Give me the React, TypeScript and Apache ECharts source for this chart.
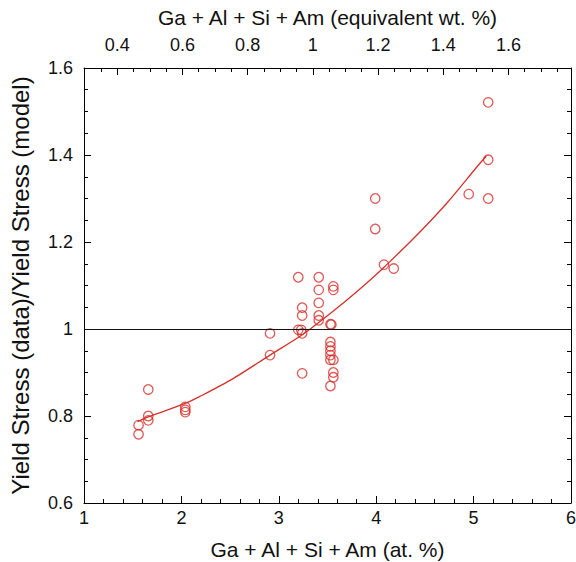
import { useEffect, useRef } from "react";
import * as echarts from "echarts";

// Measured alloy composition (at. %) and the data/model yield-stress ratio
const atPercent = [
  1.56, 1.56, 1.66, 1.66, 1.66, 2.04, 2.04, 2.04, 2.91, 2.91,
  3.2, 3.24, 3.24, 3.2, 3.23, 3.24, 3.24, 3.41, 3.41, 3.41,
  3.41, 3.41, 3.56, 3.56, 3.53, 3.54, 3.53, 3.53, 3.53, 3.53,
  3.53, 3.56, 3.56, 3.56, 3.53, 3.99, 3.99, 4.08, 4.18, 4.95,
  5.15, 5.15, 5.15,
];
const stressRatio = [
  0.779, 0.758, 0.861, 0.8, 0.79, 0.821, 0.814, 0.809, 0.99, 0.94,
  1.119, 1.049, 1.031, 0.998, 0.998, 0.99, 0.898, 1.119, 1.09, 1.06,
  1.031, 1.02, 1.098, 1.09, 1.011, 1.01, 0.97, 0.96, 0.95, 0.94,
  0.929, 0.929, 0.9, 0.889, 0.869, 1.3, 1.23, 1.148, 1.139, 1.31,
  1.389, 1.3, 1.521,
];

// Trend curve through the data
const fitAt = [1.55, 1.66, 2.04, 2.19, 2.53, 2.91, 3.21, 3.41, 3.69, 3.95, 4.08, 4.37, 4.72, 5.05, 5.13];
const fitRatio = [0.787, 0.798, 0.829, 0.845, 0.886, 0.94, 0.982, 1.015, 1.065, 1.115, 1.142, 1.205, 1.288, 1.377, 1.397];

// Secondary (equivalent wt. %) scale ticks
const wtMajorTicks = [0.4, 0.6, 0.8, 1.0, 1.2, 1.4, 1.6];
const wtMinorTicks = [
  0.3, 0.35, 0.45, 0.5, 0.55, 0.65, 0.7, 0.75, 0.85, 0.9, 0.95, 1.05, 1.1,
  1.15, 1.25, 1.3, 1.35, 1.45, 1.5, 1.55, 1.65, 1.7, 1.75,
];

const RED = "#d5302a";
const FONT = "'Liberation Sans', Arial, Helvetica, sans-serif";

export default function App() {
  const ref = useRef<HTMLDivElement>(null);

  useEffect(() => {
    if (!ref.current) return;
    const chart = echarts.init(ref.current, null, { renderer: "svg" });

    const axisLine = { show: true, lineStyle: { color: "#000", width: 1 } };
    const labelStyle = { color: "#111", fontSize: 18, fontFamily: FONT };
    const nameStyle = { color: "#111", fontSize: 21, fontFamily: FONT };
    const wtMin = 0.298;
    const wtMax = 1.792;

    chart.setOption({
      animation: false,
      backgroundColor: "#fff",
      grid: {
        left: 84,
        right: 5,
        top: 68,
        bottom: 59,
        containLabel: false,
        outerBoundsMode: "none",
      },
      xAxis: [
        {
          type: "value",
          position: "bottom",
          min: 1,
          max: 6,
          interval: 1,
          axisLine,
          axisTick: { show: true, inside: true, length: 7, lineStyle: { color: "#000" } },
          minorTick: { show: true, splitNumber: 5, length: 4, lineStyle: { color: "#000" } },
          axisLabel: { ...labelStyle, margin: 6 },
          splitLine: { show: false },
          name: "Ga + Al + Si + Am (at. %)",
          nameLocation: "middle",
          nameGap: 36,
          nameTextStyle: nameStyle,
        },
        {
          type: "value",
          position: "top",
          min: wtMin,
          max: wtMax,
          axisLine,
          axisTick: {
            show: true,
            inside: true,
            length: 4,
            customValues: wtMinorTicks,
            lineStyle: { color: "#000" },
          },
          axisLabel: { show: false },
          splitLine: { show: false },
        },
        {
          type: "value",
          position: "top",
          min: wtMin,
          max: wtMax,
          axisLine: { show: false },
          axisTick: {
            show: true,
            inside: true,
            length: 7,
            customValues: wtMajorTicks,
            lineStyle: { color: "#000" },
          },
          axisLabel: {
            ...labelStyle,
            margin: 14,
            customValues: wtMajorTicks,
            formatter: (v: number) => String(Math.round(v * 10) / 10),
          },
          splitLine: { show: false },
          name: "Ga + Al + Si + Am (equivalent wt. %)",
          nameLocation: "middle",
          nameGap: 40,
          nameTextStyle: nameStyle,
        },
      ],
      yAxis: [
        {
          type: "value",
          position: "left",
          min: 0.6,
          max: 1.6,
          interval: 0.2,
          axisLine,
          axisTick: { show: true, inside: true, length: 7, lineStyle: { color: "#000" } },
          minorTick: { show: true, splitNumber: 4, length: 4, lineStyle: { color: "#000" } },
          axisLabel: { ...labelStyle, margin: 11 },
          splitLine: { show: false },
          name: "Yield Stress (data)/Yield Stress (model)",
          nameLocation: "middle",
          nameGap: 52,
          nameTextStyle: { ...nameStyle, fontSize: 24 },
        },
        {
          type: "value",
          position: "right",
          min: 0.6,
          max: 1.6,
          interval: 0.2,
          axisLine,
          axisTick: { show: true, inside: true, length: 7, lineStyle: { color: "#000" } },
          minorTick: { show: true, splitNumber: 4, length: 4, lineStyle: { color: "#000" } },
          axisLabel: { show: false },
          splitLine: { show: false },
        },
      ],
      series: [
        {
          type: "line",
          xAxisIndex: 0,
          yAxisIndex: 0,
          data: fitAt.map((x, i) => [x, fitRatio[i]]),
          smooth: 0.3,
          showSymbol: false,
          symbol: "none",
          lineStyle: { color: RED, width: 1.3 },
          silent: true,
          z: 3,
        },
        {
          type: "scatter",
          xAxisIndex: 0,
          yAxisIndex: 0,
          data: atPercent.map((x, i) => [x, stressRatio[i]]),
          symbol: "circle",
          symbolSize: 9.5,
          itemStyle: { color: "transparent", borderColor: RED, borderWidth: 1.3 },
          z: 4,
          markLine: {
            silent: true,
            symbol: ["none", "none"],
            label: { show: false },
            lineStyle: { color: "#111", type: "solid", width: 1 },
            data: [{ yAxis: 1 }],
          },
        },
      ],
    });

    return () => chart.dispose();
  }, []);

  return (
    <div
      ref={ref}
      style={{ position: "fixed", left: 0, top: 0, width: 576, height: 562 }}
    />
  );
}
